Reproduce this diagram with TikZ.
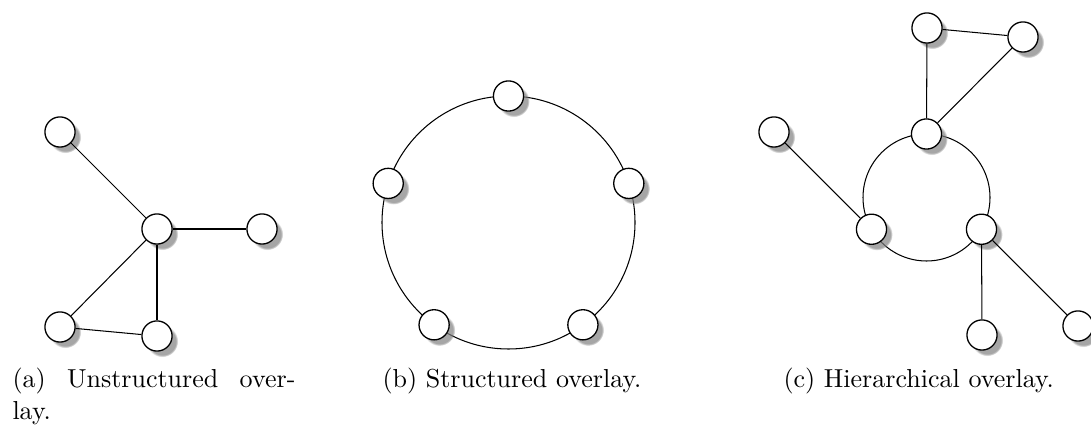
\documentclass[tikz,border=0pt]{standalone}
\usetikzlibrary{shadows}
\begin{document}
\begin{tikzpicture}[x=0.3846pt,y=-0.3846pt,
  peer/.style={circle,draw,line width=0.5pt,fill=white,minimum size=11.6pt,inner sep=0pt,
    circular drop shadow={shadow xshift=0.45ex,shadow yshift=-0.45ex,shadow scale=1.05,opacity=0.7}},
  link/.style={line width=0.4pt},
  captext/.style={anchor=base west,inner sep=0pt,font=\normalsize}]
\useasboundingbox (0,0) rectangle (1091,425);
% (a)
\node[peer] (a1) at (60,132) {};
\node[peer] (a2) at (157,229) {};
\node[peer] (a3) at (262,229) {};
\node[peer] (a4) at (60,327) {};
\node[peer] (a5) at (157,336) {};
\draw[link] (a1) -- (a2);
\draw[link] (a2) -- (a3);
\draw[link] (a2) -- (a4);
\draw[link] (a2) -- (a5);
\draw[link] (a4) -- (a5);
% (b)
\coordinate (bc) at (508.5,222.5);
\draw[link] (bc) circle (126.5);
\node[peer] (b1) at (508.5,96) {};
\node[peer] (b2) at (388.2,183.4) {};
\node[peer] (b3) at (628.8,183.4) {};
\node[peer] (b4) at (434.1,324.8) {};
\node[peer] (b5) at (582.9,324.8) {};
% (c)
\coordinate (cc) at (926.5,197.5);
\draw[link] (cc) circle (63.5);
\node[peer] (c1) at (926.5,134) {};
\node[peer] (c2) at (871.5,229.25) {};
\node[peer] (c3) at (981.5,229.25) {};
\node[peer] (c4) at (927,28) {};
\node[peer] (c5) at (1023,37) {};
\node[peer] (c6) at (774,132) {};
\node[peer] (c7) at (982,335) {};
\node[peer] (c8) at (1078,326) {};
\draw[link] (c4) -- (c1);
\draw[link] (c1) -- (c5);
\draw[link] (c4) -- (c5);
\draw[link] (c6) -- (c2);
\draw[link] (c3) -- (c7);
\draw[link] (c3) -- (c8);
% captions
\node[captext] (ca) at (12,388) {\vtop{\hbox{\makebox[108.8pt][s]{(a) Unstructured over-}}\hbox{lay.}}};
\node[captext] (cb) at (382,388) {(b) Structured overlay.};
\node[captext] (ccap) at (783,388) {(c) Hierarchical overlay.};
\end{tikzpicture}
\end{document}
